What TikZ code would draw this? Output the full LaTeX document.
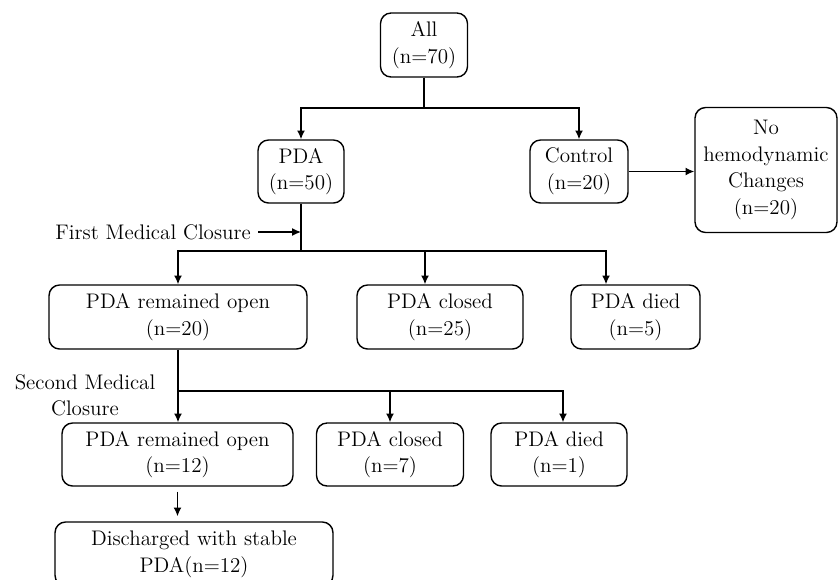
\documentclass[tikz,border=0pt]{standalone}
\usepackage{tikz}
\usetikzlibrary{arrows,arrows.meta,positioning}

\tikzset{
  box/.style={draw, line width=0.8pt, rounded corners=6pt, align=center,
    font=\fontsize{12}{15.2}\selectfont, inner sep=2pt},
  lbl/.style={align=center, font=\fontsize{12}{14.5}\selectfont, inner sep=1pt},
  conn/.style={line width=0.8pt}
}

\begin{document}
\begin{tikzpicture}[x=0.02cm, y=-0.02cm, >={Latex[length=5pt,width=4.5pt]}]
\useasboundingbox (0,0) rectangle (839,579);
% nodes
\node[box, minimum width=1.74cm, minimum height=1.28cm] (all) at (424,45) {All\\(n=70)};%
\node[box, minimum width=1.72cm, minimum height=1.26cm] (pda) at (301,171.5) {PDA\\(n=50)};%
\node[box, minimum width=1.96cm, minimum height=1.26cm] (control) at (579,171.5) {Control\\(n=20)};%
\node[box, minimum width=2.84cm, minimum height=2.5cm] (nohemo) at (766,170) {No\\hemodynamic\\Changes\\(n=20)};%

\node[box, minimum width=5.16cm, minimum height=1.28cm] (open1) at (178,317) {PDA remained open\\(n=20)};%
\node[box, minimum width=3.32cm, minimum height=1.28cm] (closed1) at (440,317) {PDA closed\\(n=25)};%
\node[box, minimum width=2.58cm, minimum height=1.28cm] (died1) at (635.5,317) {PDA died\\(n=5)};%

\node[box, minimum width=4.62cm, minimum height=1.26cm] (open2) at (177.5,454.5) {PDA remained open\\(n=12)};%
\node[box, minimum width=2.94cm, minimum height=1.26cm] (closed2) at (390,454.5) {PDA closed\\(n=7)};%
\node[box, minimum width=2.72cm, minimum height=1.26cm] (died2) at (559,454.5) {PDA died\\(n=1)};%

\node[box, minimum width=5.56cm, minimum height=1.28cm] (discharged) at (194,554) {Discharged with stable\\PDA(n=12)};%

\node[lbl, anchor=east] (first) at (253,232) {First Medical Closure};%
\node[lbl] (second) at (85,395.5) {Second Medical\\Closure};%

% split points
\coordinate (s1) at (424,108);
\coordinate (s2) at (301,251);
\coordinate (s3) at (178,391);

% edges
\draw[conn] (all) -- (s1);
\draw[conn,->] (s1) -| (pda);
\draw[conn,->] (s1) -| (control);
\draw[conn,->] (control.east) -- (control.east -| nohemo.west);

\draw[conn] (pda) -- (s2);
\draw[conn,->] (first.east) ++(5,0) -- (first.east -| s2);
\draw[conn,->] (s2) -| (open1);
\draw[conn,->] (s2) -| ([xshift=-0.3cm]closed1.north);
\draw[conn,->] (s2) -| ([xshift=-0.59cm]died1.north);

\draw[conn,->] (open1.south) -- (open1.south |- open2.north);
\draw[conn,->] (s3) -| (closed2.north);
\draw[conn,->] (s3) -| ([xshift=0.08cm]died2.north);

\draw[conn,->, shorten <=0.1cm, shorten >=0.1cm] (open2.south) -- (open2.south |- discharged.north);
\end{tikzpicture}
\end{document}
